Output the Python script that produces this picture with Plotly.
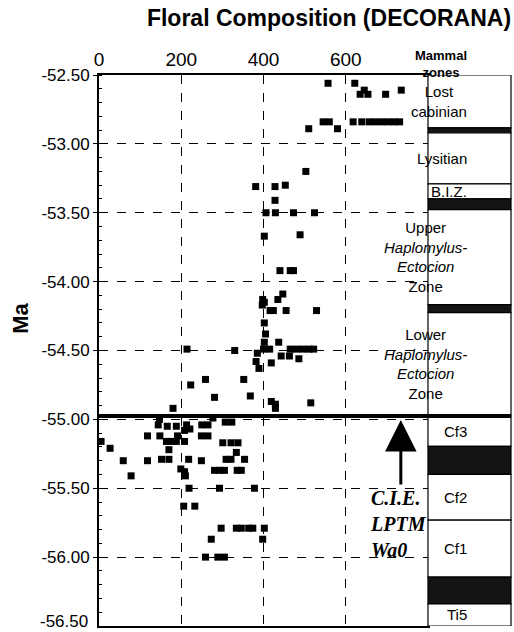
import plotly.graph_objects as go

# ---------------- data ----------------
chart_title = "Floral Composition (DECORANA)"
x_ticks = [0, 200, 400, 600]
y_ticks = [-52.5, -53.0, -53.5, -54.0, -54.5, -55.0, -55.5, -56.0]
y_tick_text = ["-52.50", "-53.00", "-53.50", "-54.00", "-54.50", "-55.00", "-55.50", "-56.00"]
y_bottom_label = "-56.50"

score = [557, 622, 635, 645, 654, 697, 735,
         545, 560, 618, 639, 657, 672, 687, 702, 717, 731,
         510, 580,
         503,
         381, 428, 453,
         428,
         406, 429, 473, 524,
         402, 489,
         440, 465, 473,
         447,
         435, 398, 402, 397,
         416, 424, 455, 529,
         402, 405, 402, 437,
         400, 415, 465, 480, 495, 510, 522,
         214, 330, 385,
         443, 463, 486,
         382, 419, 389,
         223, 259, 352,
         281, 368,
         180, 419, 429, 429, 515,
         277,
         147, 144, 166, 188, 213, 221, 208, 250, 265, 307, 323,
         118, 148, 191, 249, 265,
         5, 164, 176, 188, 208, 301, 321, 338,
         27, 170, 334,
         59, 118, 152, 170, 218, 249, 309, 321, 354,
         199, 208, 210,
         281, 293, 305, 336, 346,
         78,
         219, 293, 378,
         206, 233,
         297, 334, 346, 364, 374, 402,
         273, 398,
         259, 289, 305]

age_ma = [-52.56, -52.56, -52.64, -52.61, -52.64, -52.64, -52.61,
          -52.84, -52.84, -52.84, -52.84, -52.84, -52.84, -52.84, -52.84, -52.84, -52.84,
          -52.89, -52.89,
          -53.20,
          -53.31, -53.31, -53.30,
          -53.41,
          -53.50, -53.50, -53.50, -53.50,
          -53.67, -53.66,
          -53.92, -53.92, -53.92,
          -54.09,
          -54.13, -54.13, -54.15, -54.17,
          -54.21, -54.21, -54.21, -54.21,
          -54.30, -54.38, -54.44, -54.44,
          -54.49, -54.49, -54.49, -54.49, -54.49, -54.49, -54.49,
          -54.49, -54.50, -54.52,
          -54.54, -54.54, -54.56,
          -54.58, -54.59, -54.63,
          -54.75, -54.71, -54.71,
          -54.84, -54.83,
          -54.92, -54.87, -54.89, -54.92, -54.88,
          -54.99,
          -55.00, -55.04, -55.05, -55.05, -55.04, -55.07, -55.08, -55.04, -55.04, -55.02, -55.02,
          -55.12, -55.12, -55.12, -55.12, -55.12,
          -55.16, -55.16, -55.16, -55.16, -55.16, -55.17, -55.17, -55.17,
          -55.21, -55.22, -55.24,
          -55.30, -55.30, -55.29, -55.29, -55.29, -55.30, -55.29, -55.29, -55.29,
          -55.36, -55.38, -55.41,
          -55.37, -55.37, -55.37, -55.37, -55.37,
          -55.41,
          -55.50, -55.50, -55.50,
          -55.63, -55.63,
          -55.79, -55.79, -55.79, -55.79, -55.79, -55.79,
          -55.87, -55.87,
          -56.00, -56.00, -56.00]

cie_ma = -54.975
cie_arrow_x = 734
cie_label = "C.I.E.<br>LPTM<br>Wa0"

zone_labels = ["Lost<br>cabinian", "", "Lysitian", "B.I.Z.", "",
               "Upper<br><i>Haplomylus-</i><br><i>Ectocion</i><br>Zone", "",
               "Lower<br><i>Haplomylus-</i><br><i>Ectocion</i><br>Zone",
               "Cf3", "", "Cf2", "Cf1", "", "Ti5"]
zone_top = [-52.50, -52.884, -52.92, -53.29, -53.40, -53.478, -54.167, -54.225,
            -54.975, -55.196, -55.399, -55.732, -56.145, -56.34]
zone_bottom = [-52.884, -52.92, -53.29, -53.40, -53.478, -54.167, -54.225, -54.975,
               -55.196, -55.399, -55.732, -56.145, -56.34, -56.50]
zone_dark = [False, True, False, False, True, False, True, False,
             False, True, False, False, True, False]

# ---------------- figure ----------------
XDOM = 0.7985
fig = go.Figure()
fig.add_trace(go.Scatter(x=score, y=age_ma, mode="markers",
                         marker=dict(symbol="square", size=7, color="black"),
                         showlegend=False, cliponaxis=False))

shapes = []
annotations = []
for lab, t, b, dark in zip(zone_labels, zone_top, zone_bottom, zone_dark):
    shapes.append(dict(type="rect", xref="paper", yref="y", x0=XDOM, x1=1.0,
                       y0=b, y1=t, line=dict(color="black", width=1.2),
                       fillcolor="#141414" if dark else "white", layer="above"))
    if lab:
        annotations.append(dict(xref="paper", yref="y", x=(XDOM + 1) / 2, y=(t + b) / 2,
                                text=lab, showarrow=False,
                                font=dict(family="Liberation Sans, Arial", size=15, color="black")))

shapes.append(dict(type="line", xref="paper", yref="y", x0=0, x1=1.0, y0=cie_ma, y1=cie_ma,
                   line=dict(color="black", width=4), layer="above"))

annotations.append(dict(xref="paper", yref="paper", x=(XDOM + 1) / 2, y=1.02, yanchor="middle",
                        text="<b>Mammal<br>zones</b>", showarrow=False,
                        font=dict(family="Liberation Sans, Arial", size=13, color="black")))
annotations.append(dict(x=cie_arrow_x, y=cie_ma - 0.03, xref="x", yref="y",
                        ax=0, ay=66, showarrow=True, arrowhead=2, arrowsize=2.1,
                        arrowwidth=3, arrowcolor="black", text=""))
annotations.append(dict(x=654, y=-55.76, xref="x", yref="y", xanchor="left",
                        text="<b><i>" + cie_label + "</i></b>", showarrow=False, align="left",
                        font=dict(family="Liberation Serif, Times New Roman", size=20, color="black")))
annotations.append(dict(xref="paper", yref="paper", x=-0.225, y=0.559,
                        text="<b>Ma</b>", textangle=-90, showarrow=False,
                        font=dict(family="Liberation Sans, Arial", size=22, color="black")))
annotations.append(dict(xref="paper", yref="y", x=-0.022, y=-56.5, xanchor="right",
                        yanchor="bottom", yshift=-7, text=y_bottom_label, showarrow=False,
                        font=dict(family="Liberation Sans, Arial", size=17, color="black")))

fig.update_layout(
    width=514, height=632,
    margin=dict(l=99, r=3, t=75, b=6),
    paper_bgcolor="white", plot_bgcolor="white",
    title=dict(text="<b>" + chart_title + "</b>", x=329 / 514, xanchor="center",
               y=1 - 18 / 632, yanchor="middle", xref="container", yref="container",
               font=dict(family="Liberation Sans, Arial", size=23, color="black")),
    xaxis=dict(domain=[0, XDOM], range=[0, 800], side="top", tickvals=x_ticks,
               showgrid=True, gridcolor="black", griddash="dash", gridwidth=1,
               showline=True, linecolor="black", linewidth=1.5, mirror=True,
               ticks="inside", ticklen=5, tickcolor="black", zeroline=False,
               tickfont=dict(family="Liberation Sans Narrow, Arial Narrow, Liberation Sans",
                             size=19, color="black")),
    yaxis=dict(range=[-56.5, -52.5], tickvals=y_ticks, ticktext=y_tick_text,
               showgrid=True, gridcolor="black", griddash="dash", gridwidth=1,
               showline=True, linecolor="black", linewidth=2, mirror=True,
               ticks="outside", ticklen=4, tickcolor="black", zeroline=False,
               minor=dict(dtick=0.1, ticks="inside", ticklen=3, tickcolor="black", showgrid=False),
               tickfont=dict(family="Liberation Sans, Arial", size=17, color="black")),
    shapes=shapes, annotations=annotations,
)

fig.write_html("out.html")
